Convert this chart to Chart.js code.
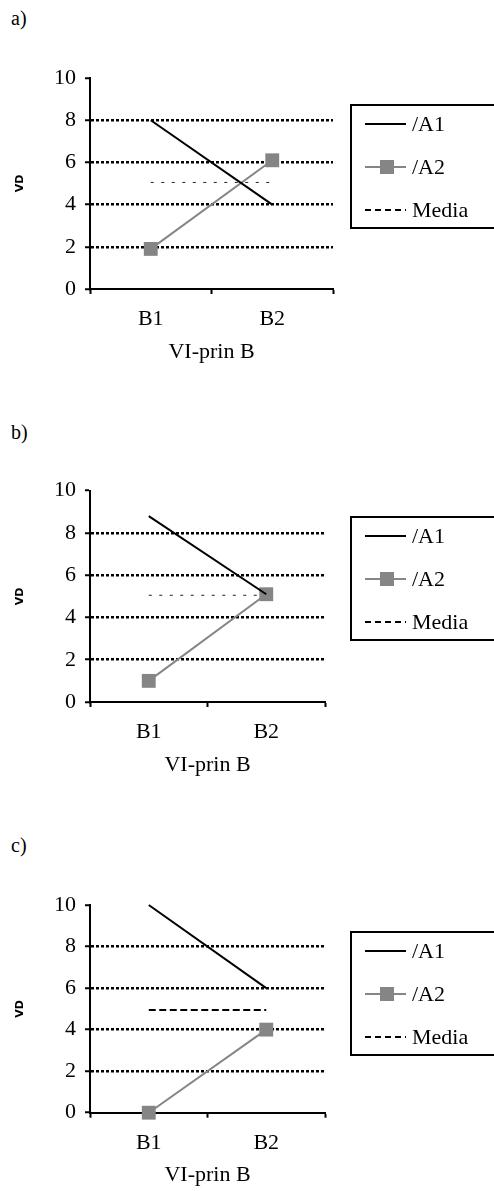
<!DOCTYPE html>
<html>
<head>
<meta charset="utf-8">
<script src="https://cdn.jsdelivr.net/npm/chart.js@4"></script>
<style>
  body { margin: 0; background: #fff; width: 494px; height: 1191px; position: relative; overflow: hidden; }
  canvas { position: absolute; left: 0; }
  .tag { position: absolute; left: 11px; font: 20px "Liberation Serif", serif; line-height: 24px; color: #000; }
</style>
</head>
<body>
<div class="tag" style="top:6px">a)</div>
<div class="tag" style="top:420px">b)</div>
<div class="tag" style="top:833px">c)</div>
<canvas id="chartA" width="494" height="380" style="top:0;width:494px;height:380px"></canvas>
<canvas id="chartB" width="494" height="400" style="top:380px;width:494px;height:400px"></canvas>
<canvas id="chartC" width="494" height="411" style="top:780px;width:494px;height:411px"></canvas>
<script>
const categories = ['B1', 'B2'];
const seriesNames = ['/A1', '/A2', 'Media'];
const yMin = 0, yMax = 10, yStep = 2;
const xTitle = 'VI-prin B';
const yTitle = 'VD';

// one entry per panel a), b), c)
const a1Values = [[8, 4], [8.8, 5.1], [10, 6]];
const a2Values = [[1.9, 6.1], [1, 5.1], [0, 4]];
const mediaValues = [5.05, 5.05, 4.95];

const FS = 22;
Chart.defaults.font.family = '"Liberation Serif", "Times New Roman", serif';
Chart.defaults.font.size = FS;
Chart.defaults.color = '#000';

const boxLegend = {
    id: 'boxLegend',
    afterDraw(chart, args, opts) {
        const ctx = chart.ctx;
        const x = 351, y = opts.top;
        ctx.save();
        ctx.lineWidth = 2;
        ctx.strokeStyle = '#000';
        ctx.strokeRect(x, y, 170, 123);
        chart.data.datasets.forEach((ds, i) => {
            const cy = y + 19 + i * 43;
            ctx.beginPath();
            ctx.setLineDash(ds.borderDash ? [6, 4] : []);
            ctx.lineWidth = 2;
            ctx.strokeStyle = ds.borderDash ? '#000' : ds.borderColor;
            ctx.moveTo(365, cy);
            ctx.lineTo(406, cy);
            ctx.stroke();
            ctx.setLineDash([]);
            if (ds.pointRadius) {
                ctx.fillStyle = ds.pointBackgroundColor;
                ctx.fillRect(380, cy - 7, 14, 14);
            }
            ctx.fillStyle = '#000';
            ctx.font = FS + 'px "Liberation Serif"';
            ctx.textBaseline = 'middle';
            ctx.fillText(ds.label, 412, cy + 1);
        });
        ctx.restore();
    }
};

function makePanel(id, i, geo) {
    const H = geo.h;
    return new Chart(document.getElementById(id), {
        type: 'line',
        data: {
            labels: categories,
            datasets: [
                { label: seriesNames[0], data: a1Values[i], borderColor: '#000', borderWidth: 2, pointRadius: 0, clip: false },
                { label: seriesNames[1], data: a2Values[i], borderColor: '#858585', borderWidth: 2,
                  pointStyle: 'rect', pointRadius: 9.8, pointBackgroundColor: '#858585', pointBorderColor: '#858585', pointBorderWidth: 0, clip: false },
                { label: seriesNames[2], data: categories.map(() => mediaValues[i]), borderColor: geo.mediaColor,
                  borderWidth: geo.mediaWidth, borderDash: geo.mediaDash, pointRadius: 0, clip: false }
            ]
        },
        options: {
            responsive: false,
            devicePixelRatio: 1,
            animation: false,
            layout: { padding: { top: geo.top, right: 494 - geo.right, bottom: H - geo.bottom - 76, left: 0 } },
            plugins: { legend: { display: false }, tooltip: { enabled: false }, boxLegend: { top: geo.legendTop } },
            scales: {
                x: {
                    offset: true,
                    afterFit: s => { s.height = 76; },
                    grid: { offset: true, drawOnChartArea: false, drawTicks: true, tickLength: 5, tickColor: '#000', tickWidth: 2 },
                    border: { color: '#000', width: 2 },
                    ticks: { padding: 12, font: { size: FS } },
                    title: { display: true, text: xTitle, font: { size: FS }, padding: { top: 0, bottom: 0 } }
                },
                y: {
                    min: yMin, max: yMax,
                    afterFit: s => { s.width = 90; },
                    grid: {
                        color: c => (c.tick && c.tick.value > yMin && c.tick.value < yMax) ? '#000' : 'rgba(0,0,0,0)',
                        lineWidth: 2.5, tickLength: 5, tickColor: '#000', tickWidth: 2, tickBorderDash: []
                    },
                    border: { color: '#000', width: 2, dash: [3, 2] },
                    ticks: { stepSize: yStep, padding: 9, font: { size: FS } },
                    title: { display: true, text: yTitle, font: { size: 11, weight: 'bold', family: 'DejaVu Sans' }, padding: { top: 14, bottom: 0 } }
                }
            }
        },
        plugins: [boxLegend]
    });
}

makePanel('chartA', 0, { h: 380, top: 78, bottom: 289, right: 333, legendTop: 105, mediaColor: '#222', mediaWidth: 1, mediaDash: [3, 7.5] });
makePanel('chartB', 1, { h: 400, top: 110.7, bottom: 322, right: 325, legendTop: 137, mediaColor: '#222', mediaWidth: 1, mediaDash: [3, 7.5] });
makePanel('chartC', 2, { h: 411, top: 125, bottom: 332.7, right: 325, legendTop: 152, mediaColor: '#000', mediaWidth: 2, mediaDash: [7, 3.5] });
</script>
</body>
</html>
